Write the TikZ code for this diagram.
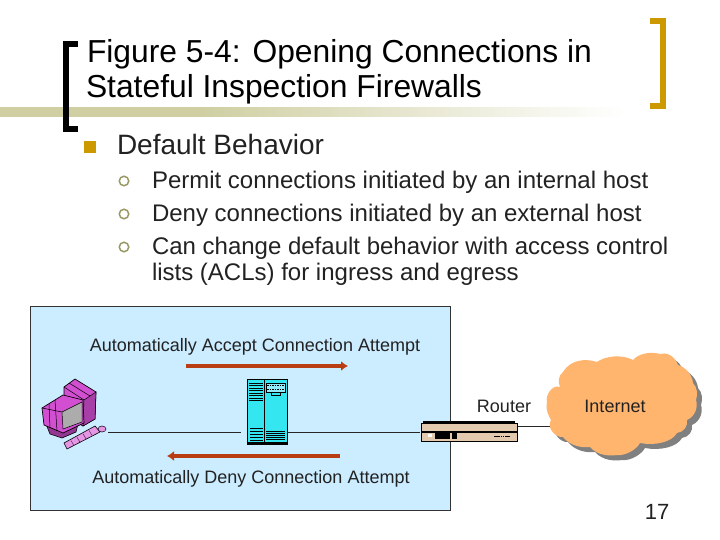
\documentclass[tikz,border=0pt]{standalone}
\usepackage{fontspec}
\setmainfont{Liberation Sans}
\usetikzlibrary{arrows.meta,calc}
\definecolor{bandc}{HTML}{CFCFA3}
\definecolor{goldb}{HTML}{CC9900}
\definecolor{olivec}{HTML}{999966}
\definecolor{boxc}{HTML}{CCECFF}
\definecolor{redc}{HTML}{B83D12}
\definecolor{cloudc}{HTML}{FFB56E}
\definecolor{shadowc}{HTML}{808080}
\definecolor{routerc}{HTML}{E3C9AE}
\definecolor{cyanc}{HTML}{33E6F0}
\definecolor{magc}{HTML}{D24FD2}
\definecolor{txt}{HTML}{222222}
\pgfdeclarehorizontalshading{bandfade}{100bp}{color(0bp)=(bandc); color(41bp)=(bandc); color(75bp)=(white); color(100bp)=(white)}
\tikzset{
  x=1pt,y=-1pt,
  every node/.style={inner sep=0pt,outer sep=0pt},
  titletext/.style={anchor=base west,font=\fontsize{31.8}{36}\selectfont,text=black},
  mainbullet/.style={anchor=base west,font=\fontsize{28}{32}\selectfont,text=txt},
  subtext/.style={anchor=base west,font=\fontsize{24}{28}\selectfont,text=txt},
  ring/.style={draw=olivec,line width=1.5pt,circle,minimum size=9.5pt,fill=white},
  labeltext/.style={anchor=base,font=\fontsize{18}{21}\selectfont,text=txt},
  wire/.style={draw=black!85,line width=0.6pt},
  bigarrow/.style={draw=redc,line width=4pt,-{Latex[length=7pt,width=10pt]}},
}
\begin{document}
\begin{tikzpicture}
\useasboundingbox (0,0) rectangle (720,540);
\fill[white] (0,0) rectangle (720,540);
% band and brackets
\shade[shading=bandfade] (0,108) rectangle (625,117);
\draw[black,line width=6pt] (78,44) -- (66,44) -- (66,129) -- (78,129);
\draw[goldb,line width=6pt] (650,21) -- (663,21) -- (663,106) -- (650,106);
% title
\node[titletext] (t1) at (87,62.5) {Figure 5-4: Opening Connections in};
\node[titletext] (t2) at (86,97.5) {Stateful Inspection Firewalls};
% bullets
\node[fill=goldb,minimum size=12pt] (b0) at (90,147) {};
\node[mainbullet] (h0) at (117,155) {Default Behavior};
\node[ring] (r1) at (124,181) {};
\node[ring] (r2) at (124,214) {};
\node[ring] (r3) at (124,247) {};
\node[subtext] (s1) at (152,188.5) {Permit connections initiated by an internal host};
\node[subtext] (s2) at (152,221.5) {Deny connections initiated by an external host};
\node[subtext] (s3) at (152,254.5) {Can change default behavior with access control};
\node[subtext] (s4) at (152,280.5) {lists (ACLs) for ingress and egress};
% blue box
\fill[boxc] (30.5,306.5) rectangle (450.5,510.5);
\draw[black!80,line width=0.7pt] (30.5,306.5) rectangle (450.5,510.5);
\node[labeltext] (l1) at (255,351) {Automatically Accept Connection Attempt};
\node[labeltext] (l2) at (251,483) {Automatically Deny Connection Attempt};
% connectors
\coordinate (pc) at (108,432);
\coordinate (fwl) at (241,432);
\coordinate (fwr) at (288,432);
\coordinate (rl) at (420,432);
\coordinate (rr) at (517,426);
\coordinate (cl) at (553,426);
\draw[wire] (pc) -- (fwl);
\draw[wire] (fwr) -- (rl);
\draw[wire] (rr) -- (cl);
% arrows
\coordinate (a1s) at (186,366);
\coordinate (a1e) at (348,366);
\coordinate (a2s) at (340,456);
\coordinate (a2e) at (167,456);
\draw[bigarrow] (a1s) -- (a1e);
\draw[bigarrow] (a2s) -- (a2e);
% firewall
\fill[cyanc,draw=black,line width=0.9pt] (247.5,379) rectangle (287.5,444);
\draw[black,line width=0.6pt] (264,380) -- (264,443);
\fill[black] (248,442) rectangle (287,445);
\foreach \y in {383,385.5,388,390.5,393,395.5,398,400} \draw[black,line width=0.5pt] (249,\y) -- (263,\y);
\foreach \y in {428,431,434,437,440} \draw[black,line width=0.5pt] (250,\y) -- (263,\y);
\foreach \y in {431,433,435,437,439} \draw[black,line width=0.6pt] (266,\y) -- (285,\y);
\fill[boxc!60!cyanc,draw=black,line width=0.4pt] (266,383) rectangle (285,392);
\draw[black,line width=1pt,dash pattern=on 1.5pt off 1pt] (267,385.5) -- (284,385.5);
\draw[black,line width=1pt,dash pattern=on 1.5pt off 1pt] (267,389.5) -- (284,389.5);
\draw[black,line width=0.5pt] (271,392) rectangle (280,395);
% pc tower
\fill[magc,draw=black,line width=0.7pt] (64,387) -- (75,379) -- (96,392) -- (95,419) -- (83,426) -- (64,415) -- cycle;
\fill[magc!80!black,draw=black,line width=0.5pt] (96,392) -- (84,400) -- (83,426) -- (95,419) -- cycle;
\draw[black,line width=0.5pt] (64,387) -- (84,400);
\draw[black,line width=0.5pt] (69,383) -- (90,396);
% stand
\fill[magc!70!black,draw=black,line width=0.6pt] (46,424) -- (62,431) -- (78,424) -- (76,432) -- (62,438) -- (50,434) -- cycle;
% monitor
\fill[magc,draw=black,line width=0.7pt] (42,408) -- (63,395) -- (83,400) -- (84,423) -- (63,433) -- (44,425) -- cycle;
\fill[gray!65,draw=black,line width=0.5pt] (62,412) -- (82,402) -- (82,422) -- (63,429) -- cycle;
\draw[black,line width=0.5pt] (42,408) -- (62,412);
\draw[black,line width=0.5pt] (49,404) -- (50,428);
\draw[black,line width=0.5pt] (55,400) -- (57,431);
% keyboard
\fill[magc!60!white,draw=black,line width=0.6pt] (64,443) -- (95,426) -- (100,432) -- (67,449) -- cycle;
\fill[magc!60!white,draw=black,line width=0.5pt] (102,429) ellipse (4 and 3);
\foreach \t in {0.2,0.4,0.6,0.8} \draw[black!70!magc,line width=0.4pt] ($(65,444)!\t!(95,427)$) -- +(3,5);
% router
\fill[routerc,draw=black,line width=0.8pt] (421,423) rectangle (517,441);
\fill[black] (423,421) rectangle (515,423);
\fill[black] (420.5,431) rectangle (517.5,433);
\fill[black] (435,433) rectangle (450,438.5);
\fill[black] (452,433) rectangle (457,438.5);
\fill[white] (428,434) rectangle (432,437);
\draw[black,line width=1.2pt,dash pattern=on 1.5pt off 0.7pt] (494,436.5) -- (510,436.5);
\node[labeltext] (rt) at (504,412) {Router};
% cloud
\def\cloudpath{(560,387) .. controls (552,384) and (545,396) .. (547,402) .. controls (545,410) and (549,416) .. (551,420)
 .. controls (546,428) and (556,438) .. (563,437) .. controls (570,446) and (582,448) .. (590,447)
 .. controls (598,456) and (610,456) .. (617,455) .. controls (625,456) and (636,450) .. (640,443)
 .. controls (655,446) and (672,442) .. (677,433) .. controls (684,432) and (688,426) .. (687,420)
 .. controls (696,416) and (698,406) .. (696,400) .. controls (698,394) and (697,387) .. (693,383)
 .. controls (692,374) and (685,367) .. (678,365) .. controls (674,355) and (666,352) .. (660,354)
 .. controls (650,351) and (638,354) .. (633,360) .. controls (622,354) and (605,356) .. (597,362)
 .. controls (585,358) and (570,360) .. (563,372) .. controls (558,376) and (558,382) .. (560,387) -- cycle}
\begin{scope}[shift={(5,5)}]
\fill[shadowc] \cloudpath;
\end{scope}
\fill[cloudc] \cloudpath;
\node[labeltext] (in) at (615,412) {Internet};
% page number
\node[anchor=base,font=\fontsize{22}{26}\selectfont,text=txt] (pg) at (657,519.5) {17};
\end{tikzpicture}
\end{document}
